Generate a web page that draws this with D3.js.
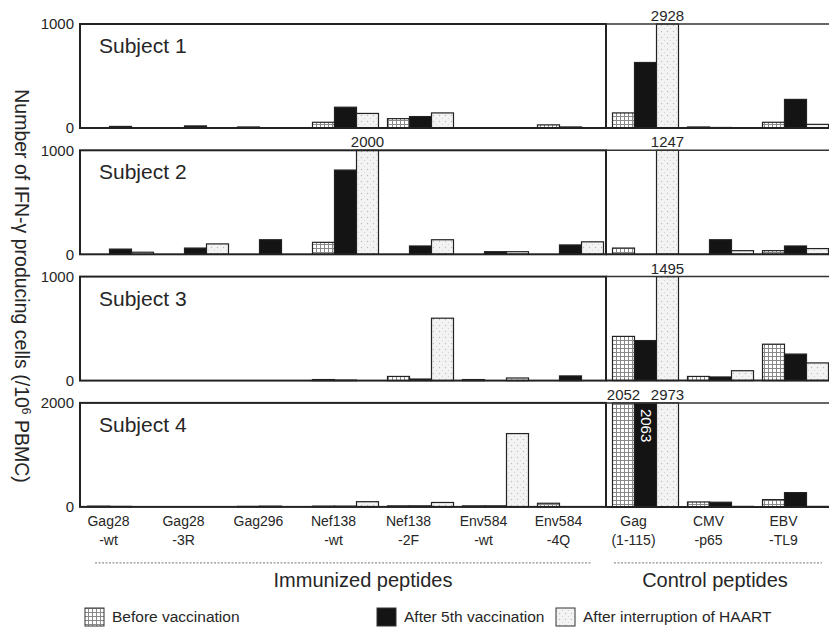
<!DOCTYPE html>
<html>
<head>
<meta charset="utf-8">
<script src="https://cdn.jsdelivr.net/npm/d3@7"></script>
<style>
  body { margin: 0; background: #fff; }
  text { font-family: "Liberation Sans", Arial, sans-serif; fill: #262626; }
</style>
</head>
<body>
<div id="chart"></div>
<script>
// categories (two-line labels)
var catLine1 = ["Gag28", "Gag28", "Gag296", "Nef138", "Nef138", "Env584", "Env584", "Gag", "CMV", "EBV"];
var catLine2 = ["-wt", "-3R", "", "-wt", "-2F", "-wt", "-4Q", "(1-115)", "-p65", "-TL9"];
var categories = catLine1.map((d, i) => d + " " + catLine2[i]);

var subjects = ["Subject 1", "Subject 2", "Subject 3", "Subject 4"];
var yMax = [1000, 1000, 1000, 2000];
var seriesNames = ["Before vaccination", "After 5th vaccination", "After interruption of HAART"];

// values per subject, one array per series
var before1 = [0, 0, 10, 55, 90, 0, 30, 145, 10, 55];
var after5th1 = [15, 20, 0, 200, 110, 0, 10, 630, 5, 275];
var afterHaart1 = [0, 0, 0, 140, 145, 0, 0, 2928, 0, 35];

var before2 = [0, 0, 0, 115, 0, 0, 0, 60, 0, 35];
var after5th2 = [50, 60, 140, 810, 80, 25, 90, 0, 140, 80];
var afterHaart2 = [20, 100, 0, 2000, 140, 25, 120, 1247, 35, 55];

var before3 = [0, 0, 0, 10, 40, 10, 0, 425, 40, 350];
var after5th3 = [0, 0, 0, 5, 15, 0, 45, 385, 35, 255];
var afterHaart3 = [0, 0, 0, 0, 600, 25, 0, 1495, 95, 170];

var before4 = [15, 0, 10, 15, 20, 20, 70, 2052, 95, 140];
var after5th4 = [10, 0, 15, 15, 20, 20, 0, 2063, 90, 275];
var afterHaart4 = [0, 0, 0, 100, 85, 1410, 0, 2973, 10, 10];

var subjectData = [
  [before1, after5th1, afterHaart1],
  [before2, after5th2, afterHaart2],
  [before3, after5th3, afterHaart3],
  [before4, after5th4, afterHaart4]
];

var svgWidth = 829;
var svgHeight = 628;

var svg = d3.select("#chart")
  .append("svg")
  .attr("width", svgWidth)
  .attr("height", svgHeight);

// patterns for the three series
var defs = svg.append("defs");
var hatch = defs.append("pattern")
  .attr("id", "hatch")
  .attr("patternUnits", "userSpaceOnUse")
  .attr("width", 4).attr("height", 4);
hatch.append("rect").attr("width", 4).attr("height", 4).attr("fill", "#fff");
hatch.append("path").attr("d", "M0,0.5H4M0.5,0V4").attr("stroke", "#8a8a8a").attr("stroke-width", 1);

var stip = defs.append("pattern")
  .attr("id", "stip")
  .attr("patternUnits", "userSpaceOnUse")
  .attr("width", 6).attr("height", 6);
stip.append("rect").attr("width", 6).attr("height", 6).attr("fill", "#f3f3f3");
stip.append("circle").attr("cx", 1.5).attr("cy", 1.5).attr("r", 0.7).attr("fill", "#bdbdbd");
stip.append("circle").attr("cx", 4.5).attr("cy", 4.5).attr("r", 0.6).attr("fill", "#cfcfcf");

var fills = ["url(#hatch)", "#141414", "url(#stip)"];

// x scales
var x = d3.scaleBand()
  .domain(categories)
  .range([80, 836])
  .paddingInner(0.12)
  .paddingOuter(0.1);

var xs = d3.scaleBand()
  .domain(d3.range(seriesNames.length))
  .range([0, x.bandwidth()]);

var left = 80;
var divider = (x(categories[6]) + x.bandwidth() + x(categories[7])) / 2 - 2;
var right = 836;

var panelH = 104;
var panelStep = 126.3;
var firstTop = 24;

subjects.forEach(function (name, si) {
  var top = firstTop + si * panelStep;
  var max = yMax[si];
  var y = d3.scaleLinear().domain([0, max]).range([top + panelH, top]);
  var g = svg.append("g");

  // bars (values above the axis max are cut at the frame)
  subjectData[si].forEach(function (vals, k) {
    var rows = vals.map((v, i) => ({ cat: categories[i], v: v })).filter(d => d.v > 0);
    g.selectAll(".bar" + k)
      .data(rows)
      .enter()
      .append("rect")
      .attr("class", "bar" + k)
      .attr("x", d => x(d.cat) + xs(k))
      .attr("width", xs.bandwidth())
      .attr("y", d => y(Math.min(d.v, max)))
      .attr("height", d => y(0) - y(Math.min(d.v, max)))
      .attr("fill", fills[k])
      .attr("stroke", "#222")
      .attr("stroke-width", 1.2);

    // value labels for cut bars
    rows.filter(d => d.v > max).forEach(function (d) {
      var cx = x(d.cat) + xs(k) + xs.bandwidth() / 2;
      if (k === 1) {
        g.append("text")
          .attr("transform", `translate(${cx - 5}, ${top + 6}) rotate(90)`)
          .attr("font-size", 15)
          .style("fill", "#fff")
          .text(d.v);
      } else {
        g.append("text")
          .attr("x", cx)
          .attr("y", top - 3)
          .attr("text-anchor", "middle")
          .attr("font-size", 15)
          .text(d.v);
      }
    });
  });

  // frames
  g.append("rect")
    .attr("x", left)
    .attr("y", top)
    .attr("width", divider - left)
    .attr("height", panelH)
    .attr("fill", "none")
    .attr("stroke", "#222")
    .attr("stroke-width", 2);
  g.append("line")
    .attr("x1", divider).attr("x2", right)
    .attr("y1", top).attr("y2", top)
    .attr("stroke", "#333").attr("stroke-width", 1.5);
  g.append("line")
    .attr("x1", divider).attr("x2", right)
    .attr("y1", top + panelH).attr("y2", top + panelH)
    .attr("stroke", "#222").attr("stroke-width", 2);

  // y axis
  var yAxis = g.append("g")
    .attr("transform", `translate(${left - 3}, 0)`)
    .call(d3.axisLeft(y).tickValues([0, max]).tickFormat(d3.format("d")).tickSize(0).tickPadding(3));
  yAxis.select(".domain").remove();
  yAxis.selectAll("text")
    .attr("font-size", 15)
    .style("font-family", "Liberation Sans, Arial, sans-serif")
    .attr("fill", "#262626");

  g.append("text")
    .attr("x", 99)
    .attr("y", top + 29)
    .attr("font-size", 21)
    .text(name);
});

// category labels
var bottom = firstTop + 3 * panelStep + panelH;
var catG = svg.append("g");
categories.forEach(function (c, i) {
  var cx = x(c) + x.bandwidth() / 2 - 12;
  catG.append("text")
    .attr("x", cx).attr("y", bottom + 19)
    .attr("text-anchor", "middle")
    .attr("font-size", 14)
    .text(catLine1[i]);
  catG.append("text")
    .attr("x", cx).attr("y", bottom + 38)
    .attr("text-anchor", "middle")
    .attr("font-size", 14)
    .text(catLine2[i]);
});

// group underline + titles
var groupLines = [[95, 592, 363, "Immunized peptides"], [614, 822, 715, "Control peptides"]];
groupLines.forEach(function (gl) {
  svg.append("line")
    .attr("x1", gl[0]).attr("x2", gl[1])
    .attr("y1", bottom + 56).attr("y2", bottom + 56)
    .attr("stroke", "#777")
    .attr("stroke-dasharray", "2,1.5");
  svg.append("text")
    .attr("x", gl[2])
    .attr("y", bottom + 80)
    .attr("text-anchor", "middle")
    .attr("font-size", 20)
    .text(gl[3]);
});

// y title
var yTitle = svg.append("text")
  .attr("transform", "translate(15, 286) rotate(90)")
  .attr("text-anchor", "middle")
  .attr("font-size", 19.5);
yTitle.append("tspan").text("Number of IFN-\u03b3 producing cells  (/10");
yTitle.append("tspan").attr("font-size", 12).attr("dy", -7).text("6");
yTitle.append("tspan").attr("dy", 7).text(" PBMC)");

// legend
var legendX = [85, 377, 556];
var legend = svg.append("g");
seriesNames.forEach(function (s, k) {
  legend.append("rect")
    .attr("x", legendX[k]).attr("y", 608)
    .attr("width", 19).attr("height", 18)
    .attr("fill", fills[k])
    .attr("stroke", "#333")
    .attr("stroke-width", 1);
  legend.append("text")
    .attr("x", legendX[k] + 27).attr("y", 622)
    .attr("font-size", 15.5)
    .text(s);
});
</script>
</body>
</html>
